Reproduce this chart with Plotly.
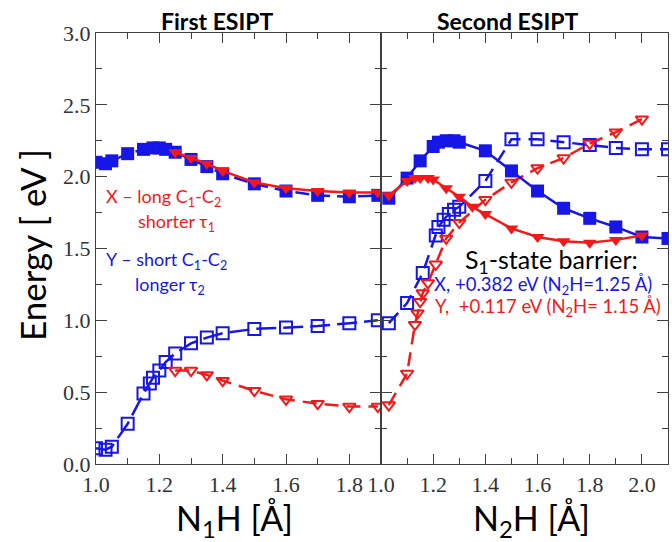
import plotly.graph_objects as go

# ---------------- data ----------------
# First ESIPT (N1H)
n1h_blue_fill_x = [1.0, 1.03, 1.05, 1.1, 1.15, 1.18, 1.2, 1.22, 1.25, 1.3, 1.35, 1.4, 1.5, 1.6, 1.7, 1.8, 1.89]
n1h_blue_fill_y = [2.10, 2.09, 2.11, 2.16, 2.19, 2.20, 2.20, 2.19, 2.17, 2.12, 2.07, 2.02, 1.95, 1.90, 1.87, 1.86, 1.87]
n1h_red_fill_x = [1.25, 1.3, 1.35, 1.4, 1.5, 1.6, 1.7, 1.8, 1.89]
n1h_red_fill_y = [2.17, 2.13, 2.09, 2.04, 1.96, 1.92, 1.90, 1.89, 1.89]
n1h_blue_open_x = [1.0, 1.03, 1.05, 1.1, 1.15, 1.17, 1.18, 1.2, 1.22, 1.25, 1.3, 1.35, 1.4, 1.5, 1.6, 1.7, 1.8, 1.89]
n1h_blue_open_y = [0.11, 0.10, 0.12, 0.28, 0.49, 0.56, 0.60, 0.65, 0.71, 0.77, 0.84, 0.88, 0.91, 0.94, 0.95, 0.96, 0.98, 1.00]
n1h_red_open_x = [1.25, 1.3, 1.35, 1.4, 1.5, 1.6, 1.7, 1.8, 1.89]
n1h_red_open_y = [0.65, 0.65, 0.62, 0.58, 0.51, 0.45, 0.42, 0.40, 0.40]

# Second ESIPT (N2H)
n2h_blue_fill_x = [1.03, 1.1, 1.15, 1.2, 1.22, 1.25, 1.28, 1.3, 1.4, 1.5, 1.6, 1.7, 1.8, 1.9, 2.0, 2.1]
n2h_blue_fill_y = [1.85, 1.99, 2.11, 2.21, 2.24, 2.25, 2.25, 2.24, 2.18, 2.04, 1.90, 1.78, 1.71, 1.65, 1.58, 1.57]
n2h_red_fill_x = [1.03, 1.1, 1.13, 1.15, 1.18, 1.2, 1.25, 1.3, 1.35, 1.4, 1.5, 1.6, 1.7, 1.8, 1.9, 2.0]
n2h_red_fill_y = [1.87, 1.97, 1.99, 1.99, 1.99, 1.98, 1.92, 1.86, 1.79, 1.74, 1.64, 1.58, 1.55, 1.54, 1.56, 1.59]
n2h_blue_open_x = [1.03, 1.1, 1.16, 1.21, 1.22, 1.24, 1.26, 1.28, 1.3, 1.4, 1.5, 1.6, 1.7, 1.8, 1.9, 2.0, 2.1]
n2h_blue_open_y = [0.98, 1.12, 1.33, 1.59, 1.65, 1.70, 1.74, 1.77, 1.79, 1.97, 2.26, 2.26, 2.24, 2.22, 2.20, 2.19, 2.19]
n2h_red_open_x = [1.03, 1.1, 1.13, 1.14, 1.15, 1.16, 1.18, 1.21, 1.25, 1.3, 1.4, 1.5, 1.6, 1.7, 1.8, 1.9, 2.0]
n2h_red_open_y = [0.41, 0.63, 0.97, 1.05, 1.13, 1.19, 1.26, 1.39, 1.57, 1.68, 1.84, 1.96, 2.06, 2.13, 2.23, 2.31, 2.40]

y_tick_vals = [0.0, 0.5, 1.0, 1.5, 2.0, 2.5, 3.0]
y_tick_text = ["0.0", "0.5", "1.0", "1.5", "2.0", "2.5", "3.0"]

BLUE = "#1616e8"
RED = "#f51818"
AX = "#404040"
W, H = 672, 542
L, R, T, B = 96, 4, 33, 78
PW, PH = W - L - R, H - T - B


def px(x):
    return (x - L) / PW


def py(y):
    return (H - B - y) / PH


fig = go.Figure()


def add(x, y, color, symbol, dash, xa, ya, filled):
    marker = dict(symbol=symbol, size=13 if "square" in symbol else 12, color=color)
    if not filled:
        marker["line"] = dict(color=color, width=2)
        marker["size"] = 12 if "square" in symbol else 11
    fig.add_trace(go.Scatter(
        x=x, y=y, mode="lines+markers", xaxis=xa, yaxis=ya,
        line=dict(color=color, width=2.5, dash=dash),
        marker=marker, showlegend=False, cliponaxis=True,
    ))


add(n1h_blue_open_x, n1h_blue_open_y, BLUE, "square-open", "20px,7px", "x", "y", False)
add(n1h_red_open_x, n1h_red_open_y, RED, "triangle-down-open", "14px,8px", "x", "y", False)
add(n1h_blue_fill_x, n1h_blue_fill_y, BLUE, "square", "14px,7px", "x", "y", True)
add(n1h_red_fill_x, n1h_red_fill_y, RED, "triangle-down", "solid", "x", "y", True)

add(n2h_blue_open_x, n2h_blue_open_y, BLUE, "square-open", "14px,8px", "x2", "y2", False)
add(n2h_red_open_x, n2h_red_open_y, RED, "triangle-down-open", "14px,8px", "x2", "y2", False)
add(n2h_blue_fill_x, n2h_blue_fill_y, BLUE, "square", "solid", "x2", "y2", True)
add(n2h_red_fill_x, n2h_red_fill_y, RED, "triangle-down", "solid", "x2", "y2", True)

split = (381 - L) / PW
tickfont = dict(family="Liberation Serif", size=22, color="#333333")
common_x = dict(ticks="inside", ticklen=10, tickwidth=1.3, tickcolor=AX, dtick=0.2, tick0=1.0,
                showline=True, linecolor=AX, linewidth=1.3, mirror="ticks", showgrid=False,
                zeroline=False, tickfont=tickfont, tickformat=".1f",
                minor=dict(ticks="inside", ticklen=6, dtick=0.1, tickcolor=AX, tickwidth=1.3, showgrid=False))
common_y = dict(ticks="inside", ticklen=11, tickwidth=1.3, tickcolor=AX, range=[0, 3.0],
                tickvals=y_tick_vals, ticktext=y_tick_text,
                showline=True, linecolor=AX, linewidth=1.3, mirror="ticks", showgrid=False,
                zeroline=False, tickfont=tickfont,
                minor=dict(ticks="inside", ticklen=6, dtick=0.25, tick0=0, tickcolor=AX, tickwidth=1.3, showgrid=False))

fig.update_layout(
    width=W, height=H,
    margin=dict(l=L, r=R, t=T, b=B),
    paper_bgcolor="white", plot_bgcolor="white",
    xaxis=dict(domain=[0, split], range=[1.0, 1.9], anchor="y", **common_x),
    xaxis2=dict(domain=[split, 1], range=[1.0, 2.1], anchor="y2", **common_x),
    yaxis=dict(domain=[0, 1], anchor="x", **common_y),
    yaxis2=dict(domain=[0, 1], anchor="x2", matches="y", showticklabels=False, **common_y),
)

SANS = "Lato"
ann = []


def text(x, y, s, size, color="black", bold=False, angle=0):
    ann.append(dict(x=px(x), y=py(y), xref="paper", yref="paper", text=s, showarrow=False,
                    xanchor="center", yanchor="middle", textangle=angle,
                    font=dict(family=SANS, size=size, color=color, weight="bold" if bold else "normal")))


text(217, 21, "First ESIPT", 23, bold=True)
text(507, 21, "Second ESIPT", 23, bold=True)
text(163, 197, "X – long C<sub>1</sub>-C<sub>2</sub>", 18, RED)
text(176, 222, "shorter τ<sub>1</sub>", 18, RED)
text(166, 260, "Y – short C<sub>1</sub>-C<sub>2</sub>", 18, BLUE)
text(170, 285, "longer τ<sub>2</sub>", 18, BLUE)
text(551, 261, "S<sub>1</sub>-state barrier:", 25, "black")
text(543, 285, "X, +0.382 eV (N<sub>2</sub>H=1.25 Å)", 18.5, BLUE)
text(548, 307, "Y,  +0.117 eV (N<sub>2</sub>H= 1.15 Å)", 18.5, RED)
text(32, 245, "Energy [ eV ]", 35, "black", angle=-90)
text(234, 520, "N<sub>1</sub>H [Å]", 34, "black")
text(531, 520, "N<sub>2</sub>H [Å]", 34, "black")
fig.update_layout(annotations=ann)

fig.write_html("out.html")
